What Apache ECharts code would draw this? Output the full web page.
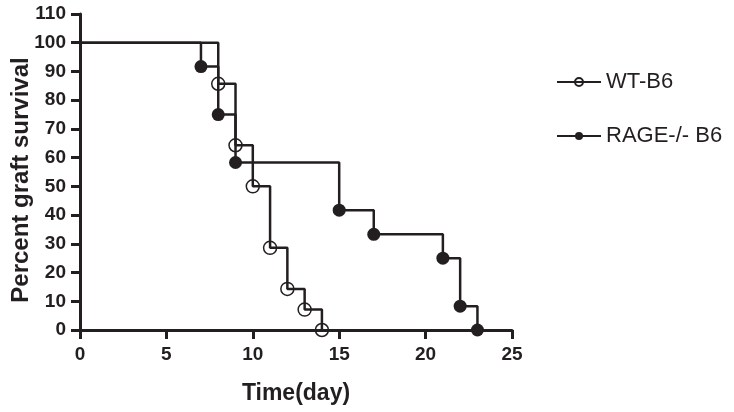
<!DOCTYPE html>
<html><head><meta charset="utf-8">
<script src="https://cdn.jsdelivr.net/npm/echarts@6/dist/echarts.min.js"></script>
<style>html,body{margin:0;padding:0;background:#fff}#c{width:734px;height:412px}</style>
</head><body><div id="c"></div>
<script>
var seriesNames = ['WT-B6', 'RAGE-/- B6'];
var wtDays = [0, 8, 9, 10, 11, 12, 13, 14];
var wtSurvival = [100, 85.7, 64.3, 50, 28.6, 14.3, 7.1, 0];
var rageDays = [0, 7, 8, 9, 15, 17, 21, 22, 23];
var rageSurvival = [100, 91.7, 75, 58.3, 41.7, 33.3, 25, 8.3, 0];
var xTicks = [0, 5, 10, 15, 20, 25];
var yTicks = [0, 10, 20, 30, 40, 50, 60, 70, 80, 90, 100, 110];

var INK = '#231f20';
var FONT = '"Liberation Sans", Arial, sans-serif';

function pts(days, vals) {
  return days.map(function (d, i) {
    var p = {value: [d, vals[i]]};
    if (i === 0) p.symbol = 'none';
    return p;
  });
}

var chart = echarts.init(document.getElementById('c'));
chart.setOption({
  animation: false,
  backgroundColor: '#fff',
  grid: {left: 80, right: 222, top: 14, bottom: 82, containLabel: false, outerBoundsMode: 'none'},
  legend: {
    orient: 'vertical', left: 551, top: 66, itemGap: 32,
    itemWidth: 44, itemHeight: 10,
    textStyle: {fontFamily: FONT, fontSize: 22, color: INK},
    data: seriesNames
  },
  xAxis: {
    type: 'value', min: xTicks[0], max: xTicks[xTicks.length - 1], interval: 5,
    name: 'Time(day)', nameLocation: 'middle', nameGap: 52, nameMoveOverlap: false,
    nameTextStyle: {fontFamily: FONT, fontSize: 23, fontWeight: 'bold', color: INK},
    axisLine: {lineStyle: {color: INK, width: 3}},
    axisTick: {lineStyle: {color: INK, width: 3}, length: 9},
    axisLabel: {fontFamily: FONT, fontSize: 19, fontWeight: 'bold', color: INK, margin: 15},
    splitLine: {show: false}
  },
  yAxis: {
    type: 'value', min: yTicks[0], max: yTicks[yTicks.length - 1], interval: 10,
    name: 'Percent graft survival', nameLocation: 'middle', nameGap: 47, nameMoveOverlap: false,
    nameTextStyle: {fontFamily: FONT, fontSize: 24, fontWeight: 'bold', color: INK, padding: [0, 16, 0, 0]},
    axisLine: {show: true, lineStyle: {color: INK, width: 3}},
    axisTick: {show: true, inside: false, lineStyle: {color: INK, width: 3}, length: 9},
    axisLabel: {fontFamily: FONT, fontSize: 19, fontWeight: 'bold', color: INK, margin: 14},
    splitLine: {show: false}
  },
  series: [
    {
      name: seriesNames[0], type: 'line', step: 'end',
      data: pts(wtDays, wtSurvival),
      symbol: 'circle', symbolSize: 13,
      lineStyle: {color: INK, width: 2.5},
      itemStyle: {color: 'rgba(255,255,255,0)', borderColor: INK, borderWidth: 1.5},
      z: 3
    },
    {
      name: seriesNames[1], type: 'line', step: 'end',
      data: pts(rageDays, rageSurvival),
      symbol: 'circle', symbolSize: 13,
      lineStyle: {color: INK, width: 2.5},
      itemStyle: {color: INK, borderColor: INK, borderWidth: 0},
      z: 2
    }
  ]
});
</script></body></html>
